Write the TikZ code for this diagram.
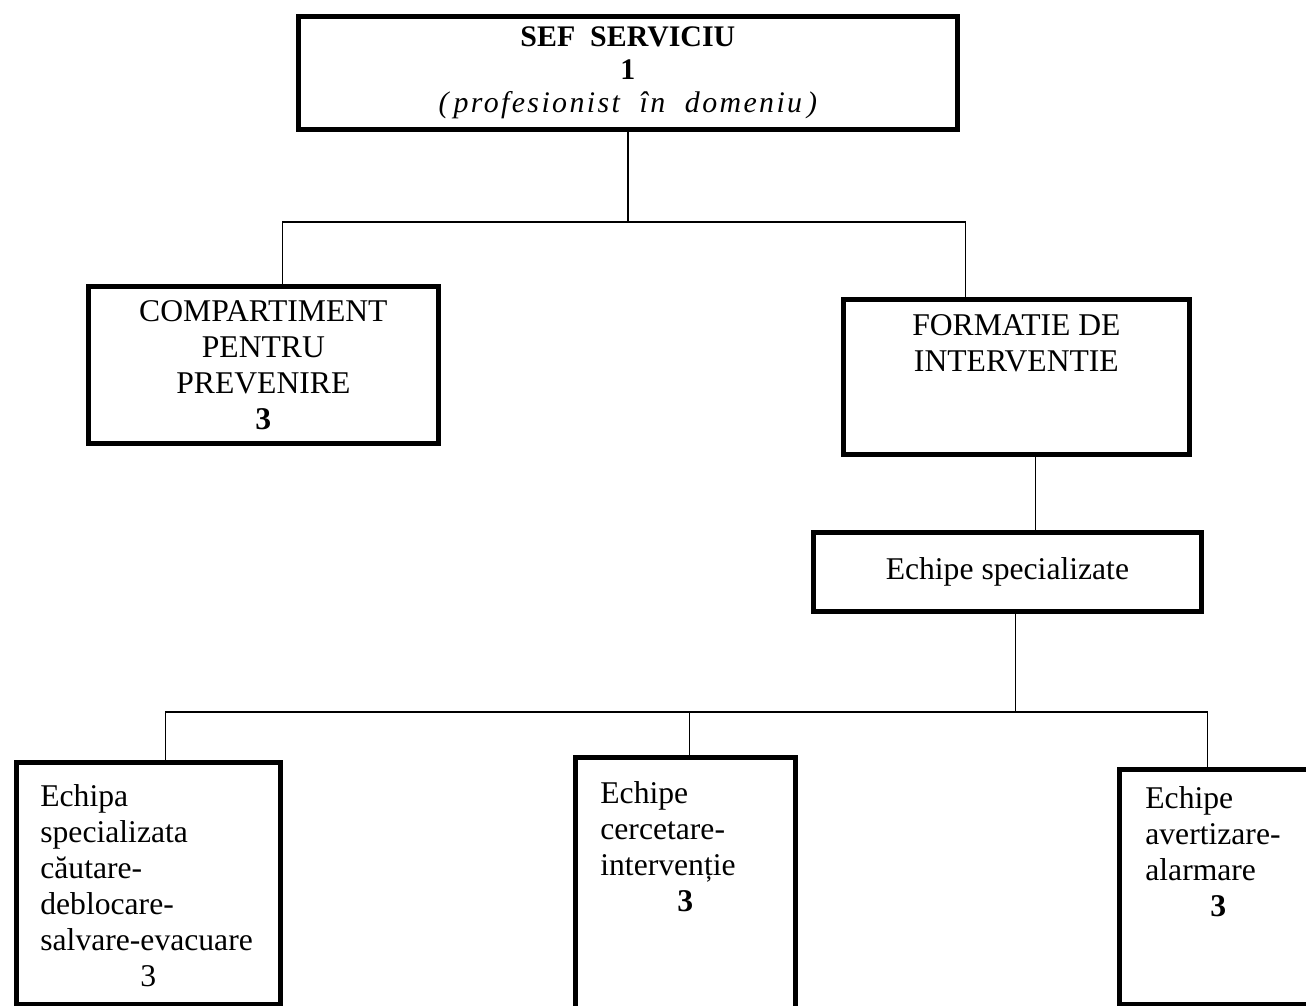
\documentclass[tikz,border=0pt]{standalone}
\usepackage{fontspec}
\setmainfont{Liberation Serif}

\begin{document}
\begin{tikzpicture}
      \tikzstyle{unit}=[draw, line width=2.7pt, inner sep=0pt, anchor=north west, font=\fontsize{18}{20.5}\selectfont]
      \tikzstyle{link}=[line width=0.8pt]
      \useasboundingbox (0,0) rectangle (26.12,-20.12);
      \node[unit, font=\fontsize{17}{18.7}\selectfont] (sef) at (5.92,-0.28)
        {\parbox[c][2.26cm][c]{13.18cm}{\centering\textbf{SEF\ \ SERVICIU}\\ \textbf{1}\\ {\itshape\addfontfeature{LetterSpace=8}(\,profesionist\ \ în\ \ domeniu\,)}}};
      \node[unit] (comp) at (1.72,-5.68)
        {\parbox[c][3.14cm][c]{7cm}{\centering COMPARTIMENT\\ PENTRU\\ PREVENIRE\\ \textbf{3}}};
      \node[unit] (form) at (16.82,-5.94)
        {\parbox[c][3.1cm][t]{6.92cm}{\vspace*{0.3cm}\centering FORMATIE DE\\ INTERVENTIE}};
      \node[unit] (spec) at (16.22,-10.60)
        {\parbox[c][1.58cm][c]{7.76cm}{\centering Echipe specializate}};
      \node[unit] (cautare) at (0.28,-15.2)
        {\parbox[c][4.84cm][t]{5.28cm}{\vspace*{0.44cm}\raggedright\leftskip=0.48cm Echipa\\ specializata\\ căutare-\\ deblocare-\\ salvare-evacuare\par\leftskip=0pt\centering 3}};
      \node[unit] (cercetare) at (11.46,-15.1)
        {\parbox[c][5.4cm][t]{4.4cm}{\vspace*{0.48cm}\raggedright\leftskip=0.5cm Echipe\\ cercetare-\\ intervenție\par\leftskip=0pt\centering\textbf{3}}};
      \node[unit] (avertizare) at (22.34,-15.34)
        {\parbox[c][4.7cm][t]{3.96cm}{\vspace*{0.34cm}\raggedright\leftskip=0.52cm Echipe\\ avertizare-\\ alarmare\par\leftskip=0pt\centering\textbf{3}}};
      % upper level
      \coordinate (busa) at (0,-4.44);
      \draw[link] (sef.south) -- (sef.south |- busa);
      \draw[link] ([xshift=0.38cm]comp.north) |- (sef.south |- busa) -| ([xshift=-1.02cm]form.north);
      \draw[link] ([xshift=0.38cm]form.south) -- ([xshift=0.38cm]form.south |- spec.north);
      % teams
      \coordinate (busb) at (0,-14.24);
      \draw[link] ([xshift=0.16cm]spec.south) -- ([xshift=0.16cm]spec.south |- busb);
      \draw[link] ([xshift=0.34cm]cautare.north) |- ([xshift=-0.22cm]avertizare.north |- busb) -- ([xshift=-0.22cm]avertizare.north);
      \draw[link] ([xshift=0.08cm]cercetare.north) -- ([xshift=0.08cm]cercetare.north |- busb);
\end{tikzpicture}
\end{document}
